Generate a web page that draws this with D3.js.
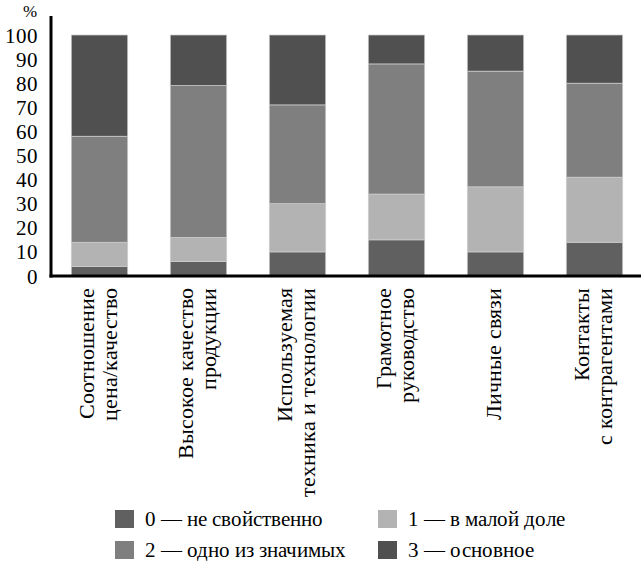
<!DOCTYPE html>
<html>
<head>
<meta charset="utf-8">
<script src="https://cdn.jsdelivr.net/npm/d3@7"></script>
<style>
@font-face {
	font-family: "RefSerif";
	src: local("Liberation Serif"), local("LiberationSerif"), local("LiberationSerif-Regular"), local("DejaVu Serif");
}
</style>
</head>
<body style="margin:0">
<svg id="chart" width="641" height="562"></svg>
<script>
// categories (two lines each)
var categories = [
	["Соотношение", "цена/качество"],
	["Высокое качество", "продукции"],
	["Используемая", "техника и технологии"],
	["Грамотное", "руководство"],
	["Личные связи", ""],
	["Контакты", "с контрагентами"]
];
var seriesNames = ["0 — не свойственно", "1 — в малой доле", "2 — одно из значимых", "3 — основное"];
var s0 = [4, 6, 10, 15, 10, 14];
var s1 = [10, 10, 20, 19, 27, 27];
var s2 = [44, 63, 41, 54, 48, 39];
var s3 = [42, 21, 29, 12, 15, 20];
var yTicks = [0, 10, 20, 30, 40, 50, 60, 70, 80, 90, 100];
var colors = ["#606060", "#b3b3b3", "#7f7f7f", "#505050"];

var FONT = "RefSerif, 'Liberation Serif', 'Times New Roman', serif";

var svg = d3.select("#chart");
var rows = categories.map(function(c, i) {
	return {i: i, k0: s0[i], k1: s1[i], k2: s2[i], k3: s3[i]};
});
var stacked = d3.stack().keys(["k0", "k1", "k2", "k3"])(rows);

var x = d3.scaleBand().domain(d3.range(categories.length)).range([50, 644])
	.paddingInner(0.43).paddingOuter(0.215);
var y = d3.scaleLinear().domain([0, 100]).range([276, 35]);

var layer = svg.selectAll(".layer")
	.data(stacked)
	.enter().append("g")
	.attr("class", "layer")
	.attr("fill", function(d, i) { return colors[i]; });

layer.selectAll("rect")
	.data(function(d) { return d; })
	.enter().append("rect")
	.attr("x", function(d) { return x(d.data.i); })
	.attr("width", x.bandwidth())
	.attr("y", function(d) { return y(d[1]); })
	.attr("height", function(d) { return y(d[0]) - y(d[1]); })
	.attr("stroke", "#cfcfcf")
	.attr("stroke-width", 0.7);

// y axis labels, drawn as plain text from the scale
svg.selectAll(".ytick")
	.data(yTicks)
	.enter().append("text")
	.attr("class", "ytick")
	.attr("x", 38)
	.attr("y", function(d) { return y(d); })
	.attr("dy", "0.36em")
	.attr("text-anchor", "end")
	.attr("font-family", FONT)
	.attr("font-size", 21)
	.text(function(d) { return d; });

svg.append("line")
	.attr("x1", 51).attr("x2", 51).attr("y1", 16).attr("y2", 277.5)
	.attr("stroke", "#000").attr("stroke-width", 3);
svg.append("line")
	.attr("x1", 49.5).attr("x2", 641).attr("y1", 276).attr("y2", 276)
	.attr("stroke", "#000").attr("stroke-width", 3);

svg.append("text")
	.attr("x", 37).attr("y", 17)
	.attr("text-anchor", "end")
	.attr("font-family", FONT)
	.attr("font-size", 17)
	.text("%");

// category labels, rotated
var lab = svg.selectAll(".cat")
	.data(categories)
	.enter().append("text")
	.attr("class", "cat")
	.attr("text-anchor", "end")
	.attr("font-family", FONT)
	.attr("font-size", 22)
	.attr("transform", function(d, i) {
		return "translate(" + (x(i) + x.bandwidth() / 2) + ",288) rotate(-90)";
	});
lab.each(function(d) {
	var t = d3.select(this);
	var lines = d.filter(function(s) { return s != ""; });
	lines.forEach(function(s, j) {
		var off = lines.length == 1 ? 5 : (j == 0 ? -6 : 17);
		t.append("tspan").attr("x", 0).attr("y", off).text(s);
	});
});

// legend
var legX = [115, 378];
var legY = [519, 550];
var leg = svg.selectAll(".leg")
	.data(seriesNames)
	.enter().append("g")
	.attr("class", "leg")
	.attr("transform", function(d, i) {
		return "translate(" + legX[i % 2] + "," + legY[Math.floor(i / 2)] + ")";
	});
leg.append("rect")
	.attr("x", 0).attr("y", -9).attr("width", 19).attr("height", 18)
	.attr("fill", function(d, i) { return colors[i]; });
leg.append("text")
	.attr("x", 30).attr("y", 7)
	.attr("font-family", FONT)
	.attr("font-size", 21)
	.text(function(d) { return d; });
</script>
</body>
</html>
